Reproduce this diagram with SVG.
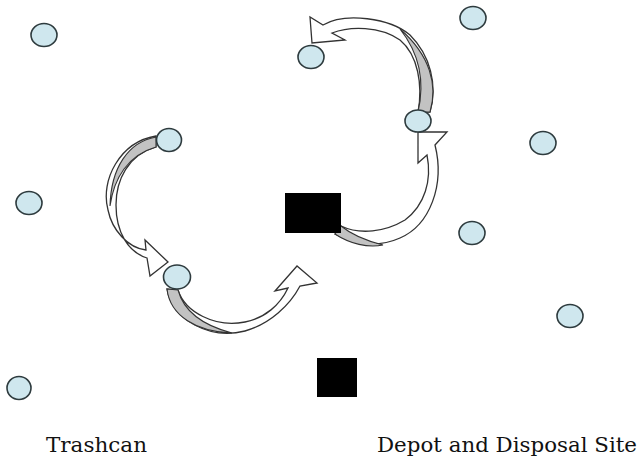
<svg xmlns="http://www.w3.org/2000/svg" width="644" height="459" viewBox="0 0 644 459">
<style>
.node{fill:#cfe7ee;stroke:#2e3b3e;stroke-width:1.6}
.depot{fill:#000}
.band{fill:#fff;stroke:#333;stroke-width:1.3;stroke-linejoin:miter}
.shade{fill:#c2c2c2;stroke:#333;stroke-width:1.1}
.lbl{font-family:"DejaVu Serif","Liberation Serif",serif;font-size:20px;fill:#111}
</style>
<rect width="644" height="459" fill="#fff"/>
<g id="connectors">
  <g id="arrow1">
    <path class="band" d="M156,136 C120,142 100,180 108,210 C112,230 128,248 146,250 L145,240 L168,262 L150,276 L147,258 C128,252 116,232 116,205 C116,180 128,155 156,147 Z"/>
    <path class="shade" d="M156,137 C128,142 111,168 110,206 C114,178 128,155 156,147 Z"/>
  </g>
  <g id="arrow2">
    <path class="band" d="M167,289 C172,320 210,340 245,331 C270,324 290,305 300,286 L317,283 L297,266 L275,291 L288,288 C280,305 265,318 245,322 C215,328 185,312 178,290 Z"/>
    <path class="shade" d="M167,289 C170,316 197,332 232,333 C205,326 184,312 178,290 Z"/>
  </g>
  <g id="arrow3">
    <path class="band" d="M430,112 C438,85 430,55 410,35 C390,18 345,12 323,25 L310,17 L312,43 L345,40 L332,33 C350,26 380,26 400,40 C418,55 423,85 418,112 Z"/>
    <path class="shade" d="M430,112 C438,85 430,55 400,29 C419,53 425,82 418,112 Z"/>
  </g>
  <g id="arrow4">
    <path class="band" d="M335,234 C355,246 380,247 400,238 C430,225 445,185 435,145 L447,132 L418,132 L418,163 L427,155 C432,180 425,205 405,220 C385,232 360,235 341,226 Z"/>
    <path class="shade" d="M335,234 C350,244 368,248 383,245 C367,241 352,235 341,226 Z"/>
  </g>
</g>
<g id="depot1"><rect class="depot" x="285" y="193" width="56" height="40"/></g>
<g id="depot2"><rect class="depot" x="317" y="358" width="40" height="39"/></g>
<g id="n1"><ellipse class="node" cx="44" cy="35" rx="13" ry="11.5"/></g>
<g id="n2"><ellipse class="node" cx="473" cy="18" rx="13" ry="11.5"/></g>
<g id="n3"><ellipse class="node" cx="311" cy="57" rx="13" ry="11.5"/></g>
<g id="n4"><ellipse class="node" cx="169" cy="140" rx="12.5" ry="11.5"/></g>
<g id="n5"><ellipse class="node" cx="418" cy="121" rx="13" ry="11"/></g>
<g id="n6"><ellipse class="node" cx="543" cy="143" rx="13" ry="11.5"/></g>
<g id="n7"><ellipse class="node" cx="29" cy="203" rx="13" ry="11.5"/></g>
<g id="n8"><ellipse class="node" cx="472" cy="233" rx="13" ry="11.5"/></g>
<g id="n9"><ellipse class="node" cx="177" cy="277" rx="13.5" ry="12"/></g>
<g id="n10"><ellipse class="node" cx="570" cy="316" rx="13" ry="11.5"/></g>
<g id="n11"><ellipse class="node" cx="19" cy="388" rx="12" ry="11.5"/></g>
<g id="legend">
  <text class="lbl" x="46" y="452" textLength="101" lengthAdjust="spacingAndGlyphs">Trashcan</text>
  <text class="lbl" x="377" y="452" textLength="260" lengthAdjust="spacingAndGlyphs">Depot and Disposal Site</text>
</g>
</svg>
